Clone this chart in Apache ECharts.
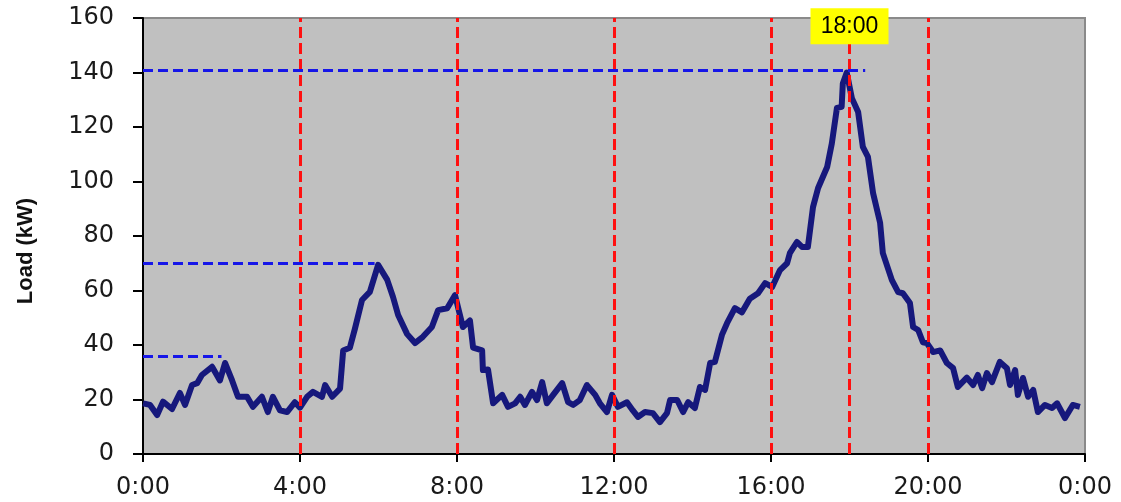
<!DOCTYPE html>
<html>
<head>
<meta charset="utf-8">
<script src="https://cdn.jsdelivr.net/npm/echarts@6/dist/echarts.min.js"></script>
<style>html,body{margin:0;padding:0;background:#fff;}#c{width:1121px;height:502px;}</style>
</head>
<body>
<div id="c"></div>
<script>
// Time of day (hours) and load (kW)
const hours = [0.00,0.18,0.36,0.51,0.74,0.94,1.07,1.25,1.38,1.50,1.76,1.96,2.09,2.27,2.42,2.65,2.80,3.03,3.18,3.31,3.49,3.67,3.87,4.00,4.18,4.33,4.56,4.64,4.82,5.02,5.10,5.27,5.40,5.58,5.78,5.99,6.22,6.37,6.50,6.73,6.93,7.13,7.36,7.52,7.75,7.95,8.15,8.33,8.41,8.64,8.66,8.79,8.92,9.15,9.30,9.48,9.61,9.73,9.91,10.04,10.17,10.29,10.45,10.68,10.83,10.96,11.13,11.31,11.52,11.64,11.82,11.95,12.10,12.33,12.48,12.61,12.79,12.99,13.17,13.35,13.43,13.61,13.76,13.89,14.06,14.19,14.32,14.45,14.57,14.75,14.88,15.08,15.26,15.46,15.67,15.85,16.03,16.23,16.41,16.48,16.66,16.79,16.94,17.07,17.20,17.43,17.55,17.68,17.80,17.83,17.93,18.06,18.22,18.34,18.47,18.60,18.78,18.85,19.08,19.24,19.36,19.54,19.62,19.75,19.87,19.97,20.13,20.31,20.48,20.64,20.76,20.99,21.15,21.27,21.38,21.50,21.63,21.83,22.01,22.09,22.22,22.29,22.42,22.55,22.68,22.80,22.98,23.16,23.29,23.49,23.69,23.87];
const load = [18.6,18,14.3,19.2,16.5,22.4,18,25.3,26,29,32,27,33.4,27,21,21,17.3,21,15.4,21,16,15.4,19,17,21,22.8,21,25.3,21,24,38,39,46,56.5,59.5,69.4,64,57.6,51,44,40.7,43,46.6,52.8,53.5,58.3,46.6,49,39,38,30.8,31,18.6,21.7,17.3,18.6,21,18,22.8,19.8,26.4,18.6,21.7,26,19,18,19.8,25.3,21.7,18.6,15.4,21.7,17.3,19,16,13.6,15.4,15,11.7,15,19.8,19.8,15.4,19,16.9,24.6,23.5,33.4,33.8,43.7,48,53.5,52,57,59,62.7,61.3,67.5,70,73.7,77.8,76,76,90.6,97.6,105.3,114,127,127.4,136,140,130.6,125.5,112.7,109,95.8,84.8,73.7,63.8,59.4,59,55.4,46.6,45.5,41,40.7,37.4,38,33.4,31.5,24.6,28,25.3,29,24.2,29.7,26.4,33.8,31.5,25.3,30.8,21.7,27.9,21,23.5,15.4,18,16.9,18.6,13.2,18,17.3];
// Axis ticks
const xTicks = [0,4,8,12,16,20,24];
const yTicks = [0,20,40,60,80,100,120,140,160];
// Reference markers
const redLineHours = [4,8,12,16,18,20];
const blueLevels = [36,70,141];      // kW
const blueEndHours = [2.0,5.9,18.4]; // where each dashed level line ends
const peakLabel = '18:00';
const peakHour = 18;

const chart = echarts.init(document.getElementById('c'));
const seriesData = hours.map((h,i)=>[h,load[i]]);
const redLines = redLineHours.map(h=>({xAxis:h}));
const blueLines = blueLevels.map((v,i)=>[{coord:[0,v]},{coord:[blueEndHours[i],v]}]);

chart.setOption({
  animation:false,
  backgroundColor:'#ffffff',
  grid:{left:143,right:36,top:18,bottom:48,show:true,backgroundColor:'#C0C0C0',borderColor:'#8a8a8a',borderWidth:2},
  xAxis:{
    type:'value',min:xTicks[0],max:xTicks[xTicks.length-1],interval:4,
    axisLine:{show:true,onZero:false,lineStyle:{color:'#000',width:2}},
    axisTick:{show:true,length:8,lineStyle:{color:'#000',width:2}},
    splitLine:{show:false},
    axisLabel:{margin:22,fontFamily:'DejaVu Sans',fontSize:24,color:'#1a1a1a',
      formatter:v=>(v%24)+':00'}
  },
  yAxis:{
    type:'value',min:yTicks[0],max:yTicks[yTicks.length-1],interval:20,
    name:'Load (kW)',nameLocation:'middle',nameGap:106,
    nameTextStyle:{fontFamily:'Liberation Sans',fontWeight:'bold',fontSize:22,color:'#111',padding:[0,30,0,0]},
    axisLine:{show:true,lineStyle:{color:'#000',width:2}},
    axisTick:{show:true,length:10,lineStyle:{color:'#000',width:2}},
    splitLine:{show:false},
    axisLabel:{margin:29,fontFamily:'DejaVu Sans',fontSize:24,color:'#1a1a1a'}
  },
  series:[
    {
      type:'line',data:seriesData,showSymbol:false,symbol:'none',
      lineStyle:{color:'#16187c',width:6,join:'round'},
      z:2
    },
    {
      type:'line',data:[],z:3,
      markLine:{silent:true,symbol:'none',label:{show:false},
        lineStyle:{color:'#ff1010',width:3,type:[11,5]},
        data:redLines}
    },
    {
      type:'line',data:[],z:3,
      markLine:{silent:true,symbol:'none',label:{show:false},
        lineStyle:{color:'#1616e8',width:3,type:[10,5]},
        data:blueLines}
    },
    {
      type:'line',data:[],z:5,clip:false,
      markPoint:{silent:true,symbol:'rect',symbolSize:[78,36],
        itemStyle:{color:'#ffff00'},
        label:{show:true,position:'inside',color:'#000',fontFamily:'Liberation Sans',fontSize:23,formatter:peakLabel},
        data:[{coord:[peakHour,157]}]}
    }
  ]
});
</script>
</body>
</html>
